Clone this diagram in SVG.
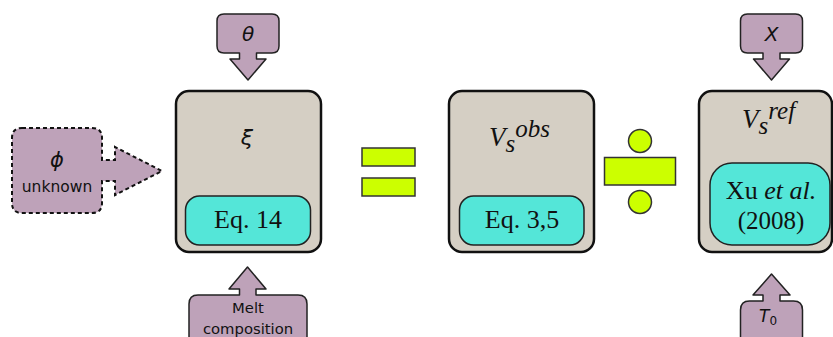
<svg xmlns="http://www.w3.org/2000/svg" width="833" height="337" viewBox="0 0 833 337">
<style>
.call{fill:#bea2b9;stroke:#222;stroke-width:1.5;stroke-linejoin:round}
.dash{fill:#bea2b9;stroke:#111;stroke-width:2;stroke-dasharray:4,3}
.box{fill:#d5cfc4;stroke:#111;stroke-width:2.5}
.eq{fill:#54e6d8;stroke:#222;stroke-width:1.5}
.op{fill:#ccff00;stroke:#333;stroke-width:1.5}
.sym{font-family:"DejaVu Sans",sans-serif;font-style:italic;fill:#111}
.lab{font-family:"DejaVu Sans",sans-serif;fill:#111}
.ser{font-family:"Liberation Serif","DejaVu Serif",serif;fill:#111}
</style>
<rect width="833" height="337" fill="#fff"/>
<g id="connectors"></g>
<g id="phi">
<path class="dash" d="M22,128 H92 Q102,128 102,138 V160 H115 V147 L162,171 L115,195 V181 H102 V203 Q102,213 92,213 H22 Q12,213 12,203 V138 Q12,128 22,128 Z"/>
<text class="sym" x="57" y="167" font-size="21" text-anchor="middle">ϕ</text>
<text class="lab" x="57" y="192" font-size="15.5" text-anchor="middle">unknown</text>
</g>
<g id="theta">
<path class="call" d="M224,14 H272 Q279,14 279,21 V46 Q279,53 272,53 H256.5 V59 H266 L248,80 L230,59 H239.5 V53 H224 Q217,53 217,46 V21 Q217,14 224,14 Z"/>
<text class="sym" x="248" y="41" font-size="20" text-anchor="middle">θ</text>
</g>
<g id="melt">
<path class="call" d="M198,295 H239.5 V289 H229 L247.5,267 L266,289 H256 V295 H298 Q307,295 307,304 V345 H189 V304 Q189,295 198,295 Z"/>
<text class="lab" x="248" y="313" font-size="14.8" text-anchor="middle">Melt</text>
<text class="lab" x="248" y="334" font-size="14.8" text-anchor="middle">composition</text>
</g>
<g id="xi">
<rect class="box" x="176" y="91" width="145" height="161" rx="13"/>
<text class="sym" x="247" y="145" font-size="22" text-anchor="middle">ξ</text>
<rect class="eq" x="185.5" y="196" width="125" height="49" rx="14"/>
<text class="ser" x="248" y="228" font-size="26" text-anchor="middle">Eq. 14</text>
</g>
<g id="equals">
<rect class="op" x="362" y="148" width="53" height="18"/>
<rect class="op" x="362" y="178" width="53" height="18"/>
</g>
<g id="vsobs">
<rect class="box" x="449" y="91" width="145" height="161" rx="13"/>
<text class="ser" x="489" y="146" font-size="27" font-style="italic">V<tspan font-size="25" dy="6">s</tspan><tspan font-size="25" dy="-15">obs</tspan></text>
<rect class="eq" x="459.5" y="196" width="124.5" height="49" rx="14"/>
<text class="ser" x="522" y="228" font-size="26" text-anchor="middle">Eq. 3,5</text>
</g>
<g id="divide">
<circle class="op" cx="640" cy="141" r="11.5"/>
<rect class="op" x="604.5" y="157.5" width="71" height="27.5" stroke-width="2"/>
<circle class="op" cx="640" cy="202" r="11.5"/>
</g>
<g id="X">
<path class="call" d="M747.5,14 H795.5 Q802.5,14 802.5,21 V46 Q802.5,53 795.5,53 H780 V59 H789.5 L771.5,80 L753.5,59 H763 V53 H747.5 Q740.5,53 740.5,46 V21 Q740.5,14 747.5,14 Z"/>
<text class="sym" x="771.5" y="41" font-size="20" text-anchor="middle">X</text>
</g>
<g id="vsref">
<rect class="box" x="699" y="91" width="133" height="161" rx="13"/>
<text class="ser" x="742" y="128" font-size="27" font-style="italic">V<tspan font-size="25" dy="6">s</tspan><tspan font-size="25" dy="-15">ref</tspan></text>
<rect class="eq" x="710" y="163" width="120" height="82" rx="22"/>
<text class="ser" x="771" y="199" font-size="26" text-anchor="middle">Xu <tspan font-style="italic">et al.</tspan></text>
<text class="ser" x="771" y="229" font-size="25" text-anchor="middle">(2008)</text>
</g>
<g id="T0">
<path class="call" d="M749.5,301 H763 V295 H753 L771.5,274 L790,295 H780 V301 H793.5 Q802.5,301 802.5,310 V345 H740.5 V310 Q740.5,301 749.5,301 Z"/>
<text class="sym" x="768" y="322" font-size="17" text-anchor="middle">T<tspan font-style="normal" font-size="12" dy="3">0</tspan></text>
</g>
</svg>
